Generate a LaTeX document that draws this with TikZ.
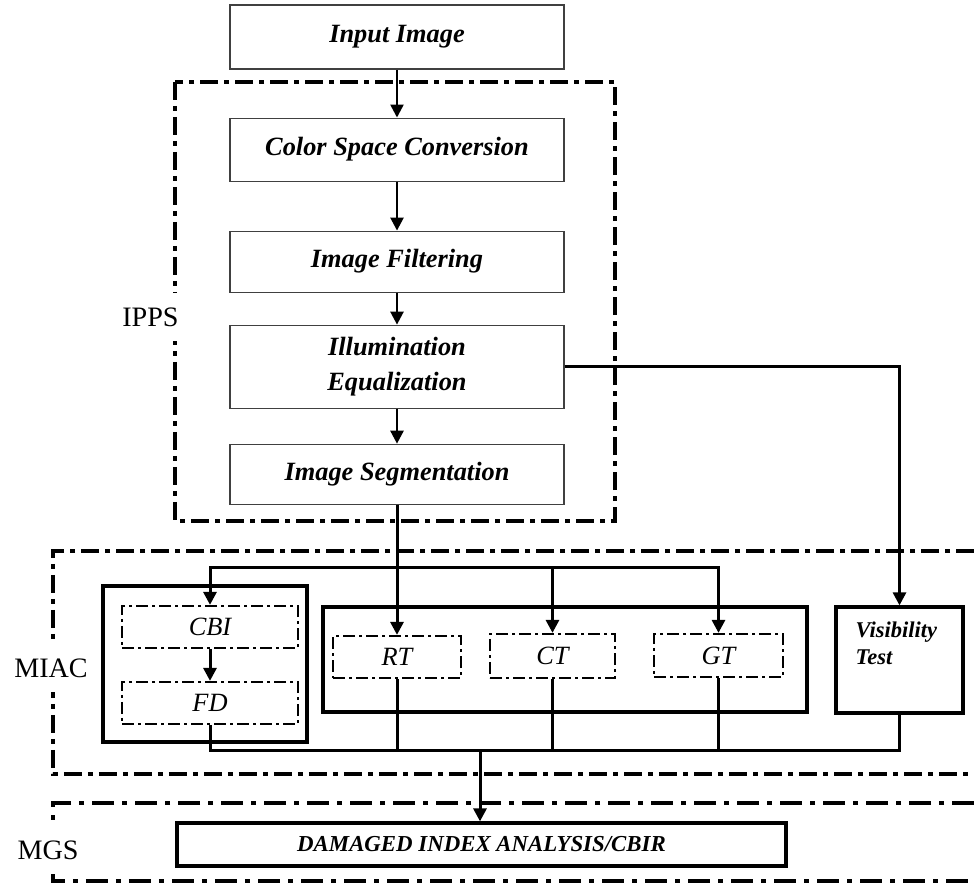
\documentclass[tikz,border=0pt]{standalone}
\usepackage{fontspec}
\setmainfont{Liberation Serif}
\usetikzlibrary{arrows.meta,positioning}

\begin{document}
\begin{tikzpicture}[
    stage/.style={draw=black!75, line width=0.6pt, minimum width=6.68cm, align=center, font=\fontsize{15}{20}\selectfont\bfseries\itshape},
    unit/.style={draw, line width=0.45mm, dash pattern=on 2.4mm off 0.8mm on 0.6mm off 0.8mm, minimum height=0.84cm, font=\fontsize{15}{18}\selectfont\itshape},
    block/.style={draw, line width=0.65mm},
    grp/.style={line width=0.7mm, dash pattern=on 3.6mm off 1.2mm on 1mm off 1.2mm},
    tag/.style={fill=white, inner xsep=1pt, inner ysep=0.3cm, font=\fontsize{16}{18}\selectfont},
    flow/.style={-{Triangle[length=2.6mm,width=2.6mm]}, line width=0.5mm},
    link/.style={line width=0.6mm},
  ]
  \useasboundingbox (0,0) rectangle (19.48,-17.76);

  % pre-processing chain
  \node[stage, minimum height=1.28cm] (input) at (7.94,-0.74) {Input Image};
  \node[stage, minimum height=1.26cm, below=0.96cm of input] (csc) {Color Space Conversion};
  \node[stage, minimum height=1.22cm, below=0.98cm of csc] (filt) {Image Filtering};
  \node[stage, minimum height=1.66cm, below=0.64cm of filt] (illum) {Illumination\\Equalization};
  \node[stage, minimum height=1.2cm, below=0.7cm of illum] (seg) {Image Segmentation};
  \draw[flow] (input) -- (csc);
  \draw[flow] (csc) -- (filt);
  \draw[flow] (filt) -- (illum);
  \draw[flow] (illum) -- (seg);

  % stage frames
  \draw[grp] (3.5,-1.64) rectangle (12.3,-10.42);
  \draw[grp] (19.48,-11.02) -- (1.06,-11.02) -- (1.06,-15.48) -- (19.48,-15.48);
  \draw[grp, line width=0.8mm, dash pattern=on 4.4mm off 1.6mm on 1mm off 1.6mm] (19.48,-16.06) -- (1.06,-16.06) -- (1.06,-17.62) -- (19.48,-17.62);
  \node[tag] (ipps) at (3.01,-6.34) {IPPS};
  \node[tag] (miac) at (1.02,-13.36) {MIAC};
  \node[tag] (mgs) at (0.96,-17.0) {MGS};

  % analysis units
  \node[block, minimum width=4.08cm, minimum height=3.12cm] (cbigrp) at (4.1,-13.28) {};
  \node[unit, minimum width=3.52cm] (cbi) at (4.2,-12.54) {CBI};
  \node[unit, minimum width=3.52cm] (fd) at (4.2,-14.06) {FD};
  \node[block, minimum width=9.68cm, minimum height=2.1cm] (tgrp) at (11.3,-13.19) {};
  \node[unit, minimum width=2.56cm] (rt) at (7.94,-13.14) {RT};
  \node[unit, minimum width=2.5cm, minimum height=0.88cm] (ct) at (11.05,-13.12) {CT};
  \node[unit, minimum width=2.58cm, minimum height=0.86cm] (gt) at (14.37,-13.11) {GT};
  \node[block, minimum width=2.54cm, minimum height=2.12cm] (vis) at (17.99,-13.2) {};
  \node[anchor=north west, align=left, inner sep=0pt, font=\fontsize{12.8}{15.3}\selectfont\bfseries\itshape] (vistxt) at ([xshift=0.42cm,yshift=-0.32cm]vis.north west) {Visibility\\Test};

  \node[block, minimum width=12.18cm, minimum height=0.86cm, font=\fontsize{13}{15}\selectfont\bfseries\itshape] (dmg) at (9.63,-16.89) {DAMAGED INDEX ANALYSIS/CBIR};

  % connections
  \coordinate (tb) at (0,-11.34);
  \coordinate (bb) at (0,-15.0);
  \coordinate (jn) at (9.6,-15.0);
  \draw[flow, line width=0.6mm] (illum.east) -| (vis.north);
  \draw[flow, line width=0.6mm] (seg) -- (rt);
  \draw[flow, line width=0.6mm] (ct.north |- tb) -| (cbi.north);
  \draw[flow, line width=0.6mm] (ct.north |- tb) -| (gt.north);
  \draw[flow, line width=0.6mm] (ct.north |- tb) -- (ct.north);
  \draw[flow, line width=0.6mm] (cbi) -- (fd);
  \draw[link] (fd.south) |- (vis.south |- bb) -- (vis.south);
  \foreach \n in {rt,ct,gt}
    \draw[link] (\n.south) -- (\n.south |- bb);
  \draw[flow, line width=0.6mm] (jn) -- (jn |- dmg.north);
\end{tikzpicture}
\end{document}
